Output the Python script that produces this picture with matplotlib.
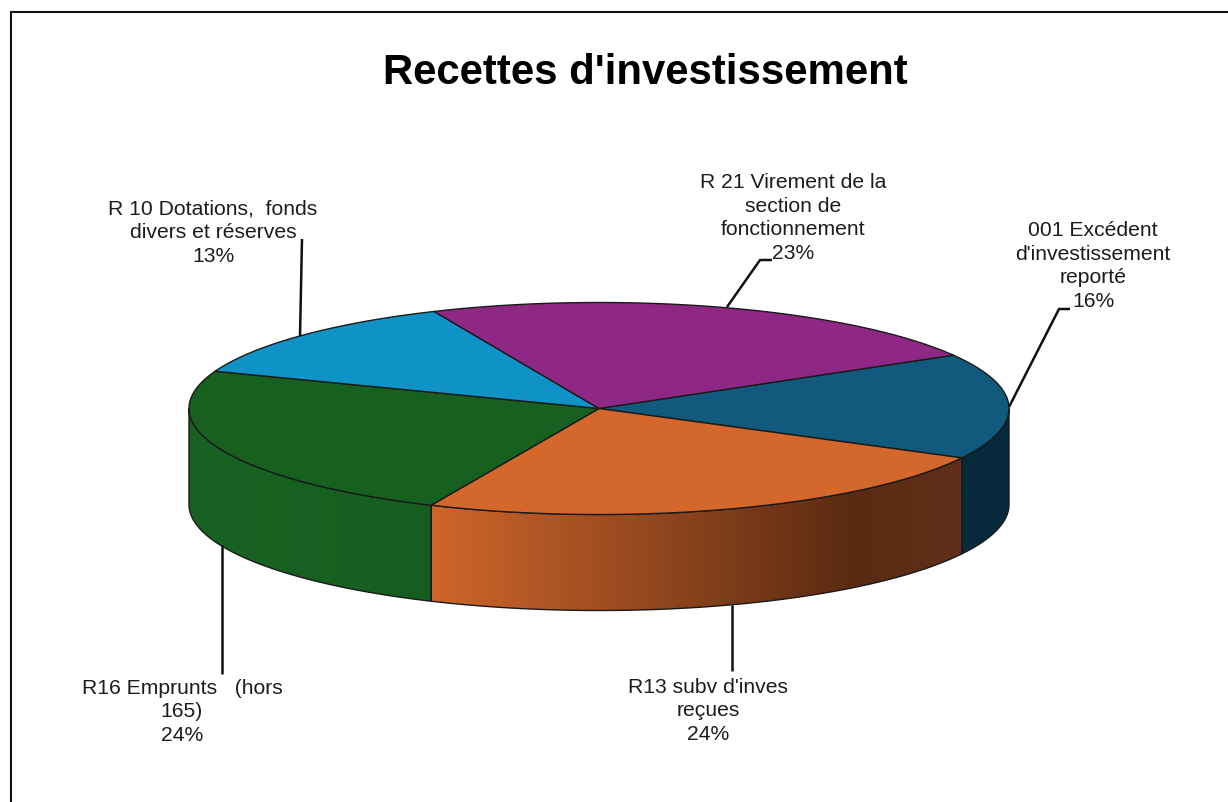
import numpy as np
import matplotlib
matplotlib.use("Agg")
import matplotlib.pyplot as plt
from matplotlib.patches import PathPatch
from matplotlib.path import Path
from matplotlib.colors import to_rgb, LinearSegmentedColormap

plt.rcParams['font.family'] = ['Liberation Sans', 'DejaVu Sans']

# Data
title = "Recettes d'investissement"
labels = ["001 Excédent\nd'investissement\nreporté", "R13 subv d'inves\nreçues", "R16 Emprunts   (hors\n165)",
          "R 10 Dotations,  fonds\ndivers et réserves", "R 21 Virement de la\nsection de\nfonctionnement"]
values = [16.1, 24.0, 24.0, 12.7, 23.2]

# Styles
top_colors = ["#115a7d", "#d4672c", "#17601f", "#0f92c6", "#8f2785"]
side_gradients = [[(0, "#062a3c"), (1, "#062a3c")],
                  [(0, "#cf662b"), (0.8, "#5a2a12"), (1, "#62301a")],
                  [(0, "#186323"), (1, "#165e1f")],
                  [(0, "#0f92c6"), (1, "#0f92c6")],
                  [(0, "#8f2785"), (1, "#8f2785")]]
label_pos = [(1093, 266), (708, 711), (182, 712), (213, 233), (793, 218)]
leaders = [[(1009, 408), (1059, 310), (1070, 310)],
           [(732, 606), (732, 672)],
           [(222, 546), (222, 675)],
           [(300, 337), (302, 240)],
           [(727, 308), (760, 261), (772, 261)]]
cx, cy, rx, ry, depth = 599, 409.5, 410, 106, 96
start_angle = 30.2
edge = "#1a1a1a"

fig = plt.figure(figsize=(12.28, 8.03), dpi=100, facecolor="white")
ax = fig.add_axes([0, 0, 1, 1])
ax.set_xlim(0, 1228)
ax.set_ylim(803, 0)
ax.axis("off")

# Chart frame: top and left edges only show in the crop
ax.plot([1228, 10.5, 10.5], [12.5, 12.5, 803], color="#111111", lw=1.5, solid_joinstyle="miter", zorder=1)

ax.text(645.5, 73, title, ha="center", va="center", fontsize=30.2, fontweight="bold", color="black")


def arc(a0, a1, dy=0, n=200):
    t = np.radians(np.linspace(a0, a1, n))
    return np.column_stack([cx + rx * np.cos(t), cy - ry * np.sin(t) + dy])


edges = start_angle - np.concatenate([[0], np.cumsum(values)]) / np.sum(values) * 360

# Side walls: only the front half of the ellipse (angles -180..0) is visible
for i in range(len(values)):
    hi, lo = edges[i], edges[i + 1]
    hi_c, lo_c = min(hi, 0), max(lo, -180)
    if hi_c <= lo_c:
        continue
    up = arc(hi_c, lo_c)
    down = arc(lo_c, hi_c, depth)
    poly = np.vstack([up, down, up[:1]])
    path = Path(poly, closed=True)
    x0, x1 = poly[:, 0].min(), poly[:, 0].max()
    y0, y1 = poly[:, 1].min(), poly[:, 1].max()
    cmap = LinearSegmentedColormap.from_list("s", [(p, to_rgb(c)) for p, c in side_gradients[i]])
    im = ax.imshow(np.linspace(0, 1, 256)[None, :], cmap=cmap, extent=(x0, x1, y1, y0),
                   aspect="auto", zorder=2, interpolation="bilinear")
    patch = PathPatch(path, fc="none", ec=edge, lw=1.0, zorder=3, joinstyle="round")
    ax.add_patch(patch)
    im.set_clip_path(patch)

ax.set_xlim(0, 1228)
ax.set_ylim(803, 0)

# Top face
for i in range(len(values)):
    pts = arc(edges[i], edges[i + 1])
    poly = np.vstack([[cx, cy], pts, [cx, cy]])
    ax.add_patch(PathPatch(Path(poly, closed=True), fc=top_colors[i], ec=edge, lw=1.0, zorder=4, joinstyle="round"))

# Labels with percentages
total = np.sum(values)
for lab, v, (x, y) in zip(labels, values, label_pos):
    ax.text(x, y, f"{lab}\n{round(v / total * 100)}%", ha="center", va="center", multialignment="center",
            fontsize=15.2, linespacing=1.33, color="#1c1c1c", zorder=6)

# Leader lines
for pts in leaders:
    xs, ys = zip(*pts)
    ax.plot(xs, ys, color="#111111", lw=1.8, solid_capstyle="butt", solid_joinstyle="miter", zorder=5)

fig.savefig("out.png", dpi=100, facecolor="white")
